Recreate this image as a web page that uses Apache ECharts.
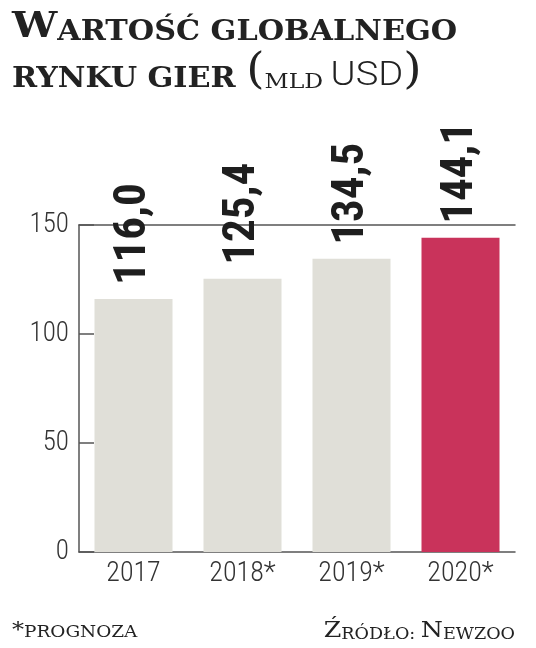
<!DOCTYPE html>
<html><head><meta charset="utf-8">
<script src="https://cdn.jsdelivr.net/npm/echarts@6/dist/echarts.min.js"></script>
<style>html,body{margin:0;padding:0;background:#fff}#c{width:536px;height:648px}</style>
</head><body><div id="c"></div>
<script>
var categories = ['2017', '2018*', '2019*', '2020*'];
var values = [116.0, 125.4, 134.5, 144.1];
var valueLabels = ['116,0', '125,4', '134,5', '144,1'];
var yTicks = [0, 50, 100, 150];

var grey = '#e0dfd8', red = '#c9335b';
var chart = echarts.init(document.getElementById('c'));
var serif = 'DejaVu Serif';
var cond = '"Roboto Condensed", "Open Sans Condensed", sans-serif';
chart.setOption({
  animation: false,
  grid: {left: 79, right: 21, top: 225, bottom: 96},
  graphic: [
    {type: 'text', left: 12, top: 10, scaleX: 1.12,
     style: {text: '{a|W}{b|ARTOŚĆ GLOBALNEGO}', fill: '#222',
       rich: {a: {fontFamily: serif, fontWeight: 'bold', fontSize: 36, verticalAlign: 'bottom', lineHeight: 40, fill: '#222'},
              b: {fontFamily: serif, fontWeight: 'bold', fontSize: 27, verticalAlign: 'bottom', lineHeight: 40, fill: '#222'}}}},
    {type: 'text', left: 12, top: 51, scaleX: 1.12,
     style: {text: '{b|RYNKU GIER }{p|(}{m|MLD }{u|USD}{p|)}', fill: '#222',
       rich: {b: {fontFamily: serif, fontWeight: 'bold', fontSize: 27, verticalAlign: 'bottom', lineHeight: 40, fill: '#222'},
              p: {fontFamily: serif, fontSize: 42, verticalAlign: 'bottom', lineHeight: 40, fill: '#222'},
              m: {fontFamily: serif, fontSize: 21, verticalAlign: 'bottom', lineHeight: 40, fill: '#222'},
              u: {fontFamily: 'Roboto', fontWeight: 300, fontSize: 34, verticalAlign: 'bottom', lineHeight: 40, fill: '#222'}}}},
    {type: 'text', left: 12, top: 620, scaleX: 1.15,
     style: {text: '{s|*}{m|PROGNOZA}', fill: '#222',
       rich: {s: {fontFamily: serif, fontSize: 21, verticalAlign: 'bottom', lineHeight: 22, fill: '#222'},
              m: {fontFamily: serif, fontSize: 16, verticalAlign: 'bottom', lineHeight: 22, fill: '#222'}}}},
    {type: 'text', right: 21, top: 620, scaleX: 1.1,
     style: {text: '{a|Ź}{m|RÓDŁO: }{a|N}{m|EWZOO}', fill: '#222',
       rich: {a: {fontFamily: serif, fontSize: 23, verticalAlign: 'bottom', lineHeight: 22, fill: '#222'},
              m: {fontFamily: serif, fontSize: 16, verticalAlign: 'bottom', lineHeight: 22, fill: '#222'}}}}
  ],
  xAxis: [
    {type: 'category', data: categories,
     axisLine: {lineStyle: {color: '#555', width: 1.5}}, axisTick: {show: false},
     axisLabel: {fontFamily: cond, fontWeight: 300, fontSize: 28, color: '#333', margin: 8}},
    {type: 'category', data: categories, position: 'top',
     axisLine: {lineStyle: {color: '#555', width: 1.5}}, axisTick: {show: false}, axisLabel: {show: false}}
  ],
  yAxis: {type: 'value', min: 0, max: 150, interval: 50,
    axisLine: {show: true, lineStyle: {color: '#555', width: 1.5}},
    axisTick: {show: true, inside: true, length: 15, lineStyle: {color: '#555', width: 1.5}},
    splitLine: {show: false},
    axisLabel: {fontFamily: cond, fontWeight: 300, fontSize: 27, color: '#333', margin: 10,
      formatter: function (v) { return yTicks.indexOf(v) >= 0 ? String(v) : ''; }}},
  series: [{type: 'bar', barWidth: 78,
    data: values.map(function (v, i) { return {value: v, itemStyle: {color: i === 3 ? red : grey}}; }),
    label: {show: true, position: 'top', rotate: 90, align: 'left', verticalAlign: 'middle', distance: 14,
      fontFamily: cond, fontWeight: 'bold', fontSize: 45, color: '#1e1e1e',
      formatter: function (p) { return valueLabels[p.dataIndex]; }}}]
});
</script></body></html>
